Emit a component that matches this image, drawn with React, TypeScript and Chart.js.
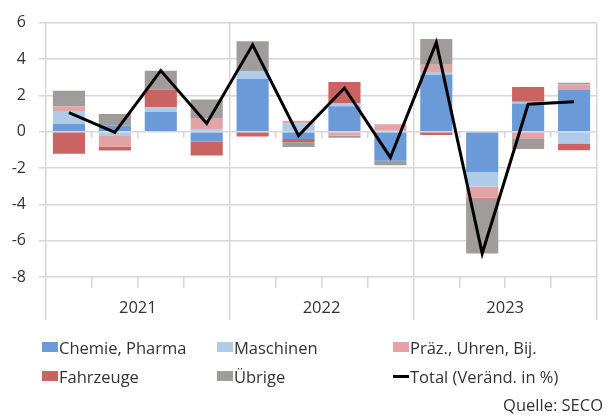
import React, { useEffect, useRef } from 'react';
import { Chart, registerables } from 'chart.js';

Chart.register(...registerables);

// ---- Data ----
const quarters = [
  '2021 Q1', '2021 Q2', '2021 Q3', '2021 Q4',
  '2022 Q1', '2022 Q2', '2022 Q3', '2022 Q4',
  '2023 Q1', '2023 Q2', '2023 Q3', '2023 Q4',
];
const years = ['2021', '2022', '2023'];

const chemie = [0.42, 0.33, 1.09, -0.55, 2.91, -0.4, 1.4, -1.6, 3.13, -2.24, 1.55, 2.29];
const maschinen = [0.71, -0.24, 0.22, 0.1, 0.4, 0.45, 0.15, 0.05, 0.15, -0.78, 0.1, -0.65];
const praez = [0.27, -0.58, 0.03, 0.65, 0.0, 0.15, -0.22, 0.35, 0.4, -0.62, -0.36, 0.31];
const fahrzeuge = [-1.22, -0.22, 0.96, -0.76, -0.27, -0.18, 1.18, 0.0, -0.18, -0.05, 0.8, -0.38];
const uebrige = [0.85, 0.64, 1.05, 1.02, 1.67, -0.27, -0.11, -0.25, 1.42, -3.02, -0.6, 0.09];
const total = [1.05, -0.04, 3.36, 0.45, 4.78, -0.22, 2.4, -1.42, 4.91, -6.71, 1.51, 1.64];

const seriesNames = ['Chemie, Pharma', 'Maschinen', 'Präz., Uhren, Bij.', 'Fahrzeuge', 'Übrige'];
const totalName = 'Total (Veränd. in %)';
const sourceText = 'Quelle: SECO';

const yMin = -8;
const yMax = 6;
const yStep = 2;

// ---- Styles ----
const colors = ['#6A9BD8', '#AECBE8', '#E2A4A4', '#C96463', '#A09C9B'];
const gridColor = '#D6D6D6';
const textColor = '#333333';
const fontFamily = "'Open Sans', sans-serif";
const fontSize = 16.5;
const tickFontSize = 16;

export default function App() {
  const ref = useRef<HTMLCanvasElement>(null);

  useEffect(() => {
    document.body.style.margin = '0';
    const seriesData = [chemie, maschinen, praez, fahrzeuge, uebrige];
    const chart = new Chart(ref.current as HTMLCanvasElement, {
      type: 'bar',
      data: {
        labels: quarters,
        datasets: [
          ...seriesData.map((d, i) => ({
            type: 'bar' as const,
            label: seriesNames[i],
            data: d,
            backgroundColor: colors[i],
            borderWidth: 0,
            barPercentage: 0.7,
            categoryPercentage: 1,
            xAxisID: 'x',
            yAxisID: 'y',
            order: 1,
          })),
          {
            type: 'line' as const,
            label: totalName,
            data: total,
            borderColor: '#000000',
            backgroundColor: '#000000',
            borderWidth: 3,
            pointRadius: 0,
            tension: 0,
            fill: false,
            xAxisID: 'x',
            yAxisID: 'y',
            order: 0,
          },
        ],
      },
      options: {
        animation: false,
        responsive: false,
        maintainAspectRatio: false,
        font: { family: fontFamily, size: fontSize },
        layout: { padding: { left: 0, right: 9, top: 20, bottom: 88 } },
        plugins: {
          legend: { display: false },
          tooltip: { enabled: false },
        },
        scales: {
          x: {
            type: 'category',
            position: { y: 0 },
            stacked: true,
            offset: true,
            grid: {
              display: true,
              drawOnChartArea: false,
              offset: true,
              tickLength: 6,
              color: gridColor,
              lineWidth: 1.5,
            },
            border: { display: false },
            ticks: { display: false },
          },
          xq: {
            type: 'category',
            labels: quarters,
            position: 'bottom',
            weight: 0,
            offset: true,
            grid: {
              drawOnChartArea: false,
              offset: true,
              tickLength: 11,
              color: gridColor,
              lineWidth: 1.5,
            },
            border: { display: false },
            ticks: { display: false },
            afterFit: (s: any) => {
              s.height = 11;
            },
          },
          xy: {
            type: 'category',
            labels: years,
            position: 'bottom',
            weight: 1,
            offset: true,
            grid: {
              drawOnChartArea: true,
              offset: true,
              tickLength: 32,
              color: gridColor,
              lineWidth: 1.5,
            },
            border: { display: false },
            ticks: {
              padding: -22,
              color: textColor,
              font: { family: fontFamily, size: fontSize },
              maxRotation: 0,
            },
            afterFit: (s: any) => {
              s.height = 40;
            },
          },
          y: {
            type: 'linear',
            stacked: true,
            min: yMin,
            max: yMax,
            ticks: {
              stepSize: yStep,
              padding: 13,
              color: textColor,
              font: { family: fontFamily, size: tickFontSize },
            },
            grid: { color: gridColor, lineWidth: 1.5, tickLength: 7 },
            border: { display: false },
            afterFit: (s: any) => {
              s.width = 46;
            },
          },
        },
      } as any,
    });
    return () => chart.destroy();
  }, []);

  const legendItems = [
    { name: seriesNames[0], color: colors[0], x: 42, y: 347, line: false },
    { name: seriesNames[1], color: colors[1], x: 217, y: 347, line: false },
    { name: seriesNames[2], color: colors[2], x: 393, y: 347, line: false },
    { name: seriesNames[3], color: colors[3], x: 42, y: 376, line: false },
    { name: seriesNames[4], color: colors[4], x: 217, y: 376, line: false },
    { name: totalName, color: '#000000', x: 393, y: 376, line: true },
  ];

  return (
    <div style={{ position: 'absolute', left: 0, top: 0, width: 606, height: 416, background: '#fff' }}>
      <canvas ref={ref} width={606} height={416} style={{ position: 'absolute', left: 0, top: 0, width: 606, height: 416 }} />
      {legendItems.map((it) => (
        <div
          key={it.name}
          style={{
            position: 'absolute',
            left: it.x,
            top: it.y - 11,
            height: 22,
            display: 'flex',
            alignItems: 'center',
            fontFamily,
            fontSize,
            color: textColor,
            whiteSpace: 'nowrap',
          }}
        >
          <span
            style={{
              display: 'inline-block',
              width: 16,
              height: it.line ? 3 : 10,
              background: it.color,
              marginRight: 1,
            }}
          />
          <span>{it.name}</span>
        </div>
      ))}
      <div
        style={{
          position: 'absolute',
          right: 3,
          top: 405 - 11,
          height: 22,
          lineHeight: '22px',
          fontFamily,
          fontSize,
          color: textColor,
          whiteSpace: 'nowrap',
        }}
      >
        {sourceText}
      </div>
    </div>
  );
}
